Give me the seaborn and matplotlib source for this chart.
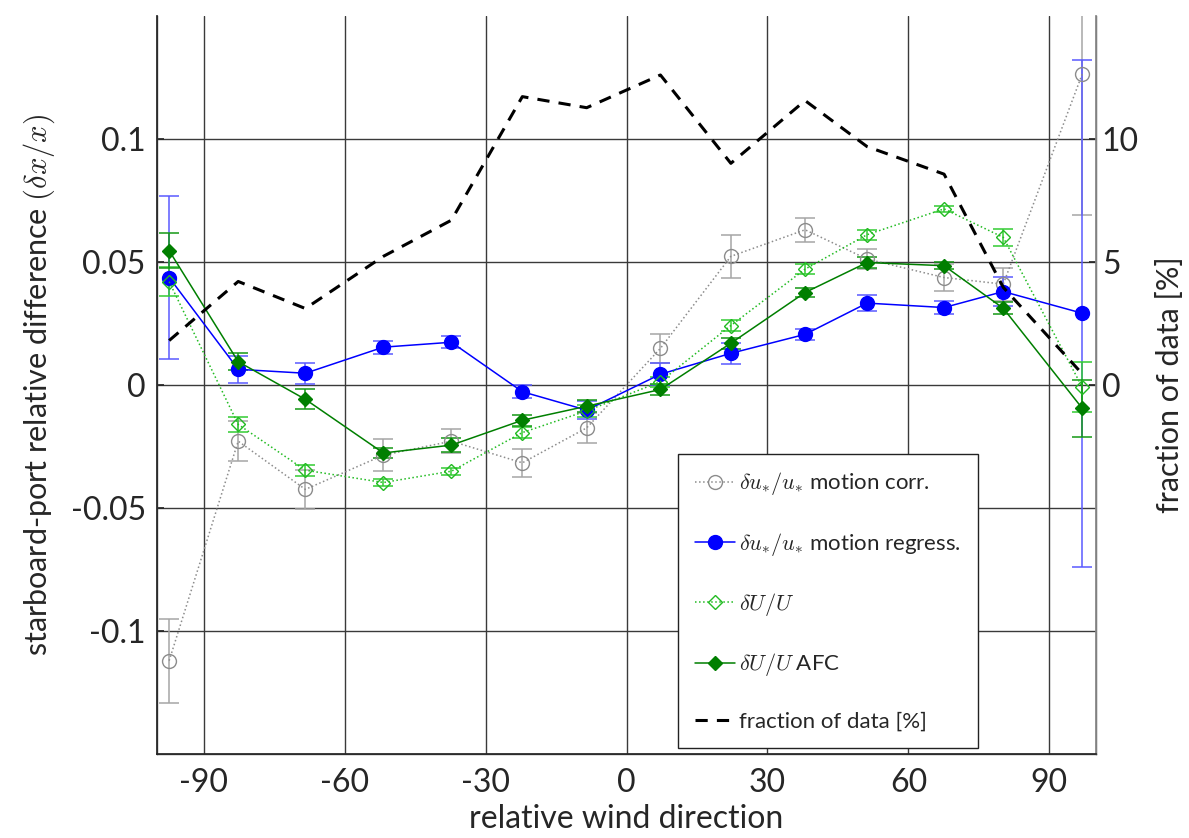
import matplotlib
matplotlib.use("Agg")
import matplotlib.pyplot as plt
import numpy as np
import pandas as pd
import seaborn as sns

# relative wind direction bins
wind_dir = [-97.4, -82.7, -68.4, -51.8, -37.3, -22.2, -8.5, 7.2, 22.2, 38.0, 51.2, 67.6, 80.2, 97.0]

# du*/u* motion corr.
corr_val = [-0.112, -0.0228, -0.0424, -0.0285, -0.0228, -0.0316, -0.0174, 0.0149, 0.0523, 0.0631, 0.0512, 0.0437, 0.041, 0.1263]
corr_err = [0.017, 0.008, 0.008, 0.0066, 0.005, 0.0058, 0.006, 0.0058, 0.0087, 0.0048, 0.004, 0.0054, 0.0067, 0.057]

# du*/u* motion regress.
regr_val = [0.0437, 0.0064, 0.0048, 0.0154, 0.0174, -0.0027, -0.0102, 0.0044, 0.0129, 0.0206, 0.0333, 0.0315, 0.038, 0.0292]
regr_err = [0.033, 0.0055, 0.0043, 0.0027, 0.0024, 0.0027, 0.0037, 0.0044, 0.0043, 0.0022, 0.0034, 0.0026, 0.006, 0.103]

# dU/U
du_val = [0.042, -0.016, -0.0346, -0.0396, -0.035, -0.0193, -0.0105, 0.0014, 0.0242, 0.0471, 0.0611, 0.0716, 0.060, -0.0008]
du_err = [0.006, 0.0032, 0.0022, 0.0015, 0.0015, 0.0024, 0.0025, 0.002, 0.0024, 0.002, 0.002, 0.0013, 0.0033, 0.0102]

# dU/U AFC
afc_val = [0.0546, 0.0095, -0.0058, -0.0276, -0.0244, -0.0143, -0.0086, -0.0018, 0.017, 0.0376, 0.0498, 0.0485, 0.0312, -0.0094]
afc_err = [0.007, 0.0035, 0.004, 0.002, 0.0027, 0.0022, 0.0025, 0.0022, 0.0023, 0.002, 0.0022, 0.0015, 0.0025, 0.0116]

# fraction of data [%]
frac_val = [1.81, 4.21, 3.11, 5.23, 6.70, 11.72, 11.27, 12.6, 9.01, 11.56, 9.69, 8.57, 3.97, 0.46]

sns.set_theme(style="white")
plt.rcParams["font.family"] = ["Lato", "DejaVu Sans"]
plt.rcParams["mathtext.fontset"] = "cm"

df = pd.DataFrame({"dir": wind_dir, "corr": corr_val, "regr": regr_val, "du": du_val, "afc": afc_val, "frac": frac_val})

fig = plt.figure(figsize=(11.89, 8.38), dpi=100)
ax = fig.add_axes([0.132, 0.100, 0.790, 0.881])

series = [
    ("corr", corr_err, r"$\delta u_{*}/u_{*}$ motion corr.", "#8c8c8c", "#a6a6a6", ":", "o", "none", 10),
    ("regr", regr_err, r"$\delta u_{*}/u_{*}$ motion regress.", "#0000ff", "#5a5aff", "-", "o", "#0000ff", 10),
    ("du", du_err, r"$\delta U/U$", "#22bb22", "#33cc33", ":", "D", "none", 7.5),
    ("afc", afc_err, r"$\delta U/U$ AFC", "#007f00", "#159915", "-", "D", "#007f00", 7.5),
]
for col, err, label, color, ecolor, ls, marker, mfc, ms in series:
    ax.errorbar(df["dir"], df[col], yerr=err, fmt="none", ecolor=ecolor, elinewidth=1.1, capsize=7, capthick=1.1, zorder=2)
    sns.lineplot(data=df, x="dir", y=col, ax=ax, color=color, linestyle=ls, linewidth=1.1,
                 marker=marker, markersize=ms, markerfacecolor=mfc, markeredgecolor=color,
                 markeredgewidth=1.0, label=label, sort=False, zorder=3)

ax.set_xlim(-100, 100)
ax.set_ylim(-0.15, 0.15)
ax.set_xticks([-90, -60, -30, 0, 30, 60, 90])
ax.set_yticks([-0.1, -0.05, 0, 0.05, 0.1])
ax.set_yticklabels(["-0.1", "-0.05", "0", "0.05", "0.1"])
ax.set_xticklabels(["-90", "-60", "-30", "0", "30", "60", "90"])
ax.grid(True, color="#3a3a3a", linewidth=1.0)
ax.set_axisbelow(True)
ax.tick_params(axis="both", labelsize=23, colors="#262626", direction="in", length=5)
ax.tick_params(axis="y", pad=8)
ax.tick_params(axis="x", pad=10)
ax.set_xlabel("relative wind direction", fontsize=23, color="#262626", labelpad=4)
ax.set_ylabel(r"starboard-port relative difference $(\delta x/x)$", fontsize=22, color="#262626", labelpad=10)
ax.spines["top"].set_visible(False)
for s in ["left", "bottom", "right"]:
    ax.spines[s].set_color("#555555")
    ax.spines[s].set_linewidth(1.0)

ax2 = ax.twinx()
sns.lineplot(data=df, x="dir", y="frac", ax=ax2, color="black", linestyle=(0, (4, 3)), linewidth=2.2,
             label="fraction of data [%]", sort=False)
ax2.set_ylim(-15, 15)
ax2.set_yticks([0, 5, 10])
ax2.set_yticklabels(["0", "5", "10"])
ax2.tick_params(axis="y", labelsize=23, colors="#262626", direction="in", length=5, pad=4)
ax2.set_ylabel("fraction of data [%]", fontsize=22, color="#262626", labelpad=12)
ax2.spines["top"].set_visible(False)
ax2.spines["right"].set_color("#888888")
ax2.grid(False)

h1, l1 = ax.get_legend_handles_labels()
h2, l2 = ax2.get_legend_handles_labels()
if ax.get_legend() is not None:
    ax.get_legend().remove()
ax2.legend(h1 + h2, l1 + l2, loc="lower left", bbox_to_anchor=(0.555, 0.008), fontsize=16,
           frameon=True, fancybox=False, edgecolor="#222222", framealpha=1, labelspacing=1.5,
           handlelength=1.8, handletextpad=0.2, borderpad=0.75, borderaxespad=0)
ax2.get_legend().get_frame().set_linewidth(1.0)

fig.savefig("out.png", dpi=100)
